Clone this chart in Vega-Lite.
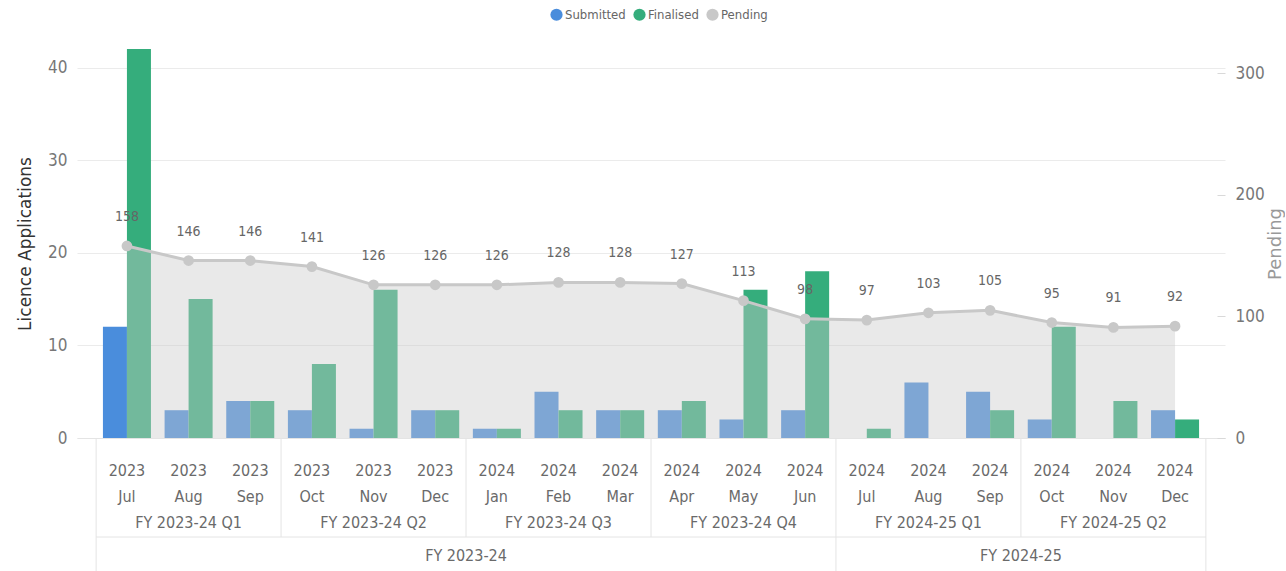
{
  "$schema": "https://vega.github.io/schema/vega-lite/v6.json",
  "padding": {"left": 16, "top": 8, "right": 0, "bottom": 0},
  "background": "white",
  "config": {
    "font": "DejaVu Sans Condensed, sans-serif",
    "view": {"stroke": null}
  },
  "datasets": {
    "months": [
      {"month": "2023-07", "year": "2023", "mon": "Jul", "Submitted": 12, "Finalised": 42, "Pending": 158},
      {"month": "2023-08", "year": "2023", "mon": "Aug", "Submitted": 3, "Finalised": 15, "Pending": 146},
      {"month": "2023-09", "year": "2023", "mon": "Sep", "Submitted": 4, "Finalised": 4, "Pending": 146},
      {"month": "2023-10", "year": "2023", "mon": "Oct", "Submitted": 3, "Finalised": 8, "Pending": 141},
      {"month": "2023-11", "year": "2023", "mon": "Nov", "Submitted": 1, "Finalised": 16, "Pending": 126},
      {"month": "2023-12", "year": "2023", "mon": "Dec", "Submitted": 3, "Finalised": 3, "Pending": 126},
      {"month": "2024-01", "year": "2024", "mon": "Jan", "Submitted": 1, "Finalised": 1, "Pending": 126},
      {"month": "2024-02", "year": "2024", "mon": "Feb", "Submitted": 5, "Finalised": 3, "Pending": 128},
      {"month": "2024-03", "year": "2024", "mon": "Mar", "Submitted": 3, "Finalised": 3, "Pending": 128},
      {"month": "2024-04", "year": "2024", "mon": "Apr", "Submitted": 3, "Finalised": 4, "Pending": 127},
      {"month": "2024-05", "year": "2024", "mon": "May", "Submitted": 2, "Finalised": 16, "Pending": 113},
      {"month": "2024-06", "year": "2024", "mon": "Jun", "Submitted": 3, "Finalised": 18, "Pending": 98},
      {"month": "2024-07", "year": "2024", "mon": "Jul", "Submitted": 0, "Finalised": 1, "Pending": 97},
      {"month": "2024-08", "year": "2024", "mon": "Aug", "Submitted": 6, "Finalised": 0, "Pending": 103},
      {"month": "2024-09", "year": "2024", "mon": "Sep", "Submitted": 5, "Finalised": 3, "Pending": 105},
      {"month": "2024-10", "year": "2024", "mon": "Oct", "Submitted": 2, "Finalised": 12, "Pending": 95},
      {"month": "2024-11", "year": "2024", "mon": "Nov", "Submitted": 0, "Finalised": 4, "Pending": 91},
      {"month": "2024-12", "year": "2024", "mon": "Dec", "Submitted": 3, "Finalised": 2, "Pending": 92}
    ],
    "quarters": [
      {"month": "2023-08", "label": "FY 2023-24 Q1"},
      {"month": "2023-11", "label": "FY 2023-24 Q2"},
      {"month": "2024-02", "label": "FY 2023-24 Q3"},
      {"month": "2024-05", "label": "FY 2023-24 Q4"},
      {"month": "2024-08", "label": "FY 2024-25 Q1"},
      {"month": "2024-11", "label": "FY 2024-25 Q2"}
    ],
    "qstarts": [
      {"month": "2023-07"}, {"month": "2023-10"}, {"month": "2024-01"},
      {"month": "2024-04"}, {"month": "2024-07"}, {"month": "2024-10"}
    ],
    "fys": [
      {"month": "2023-12", "label": "FY 2023-24"},
      {"month": "2024-09", "label": "FY 2024-25"}
    ],
    "fystarts": [{"month": "2023-07"}, {"month": "2024-07"}],
    "end": [{"month": "2024-12"}],
    "span": [{"from": "2023-07", "to": "2024-12"}]
  },
  "vconcat": [
    {
      "width": 1148,
      "height": 389,
      "encoding": {
        "x": {
          "field": "month", "type": "nominal", "title": null,
          "scale": {"type": "band", "paddingInner": 0, "paddingOuter": 0.31},
          "axis": {"labels": false, "ticks": false, "domain": true, "domainColor": "#e4e4e4", "grid": false, "title": null}
        }
      },
      "layer": [
        {
          "data": {"name": "months"},
          "transform": [{"fold": ["Submitted", "Finalised"], "as": ["series", "count"]}],
          "mark": {"type": "bar"},
          "encoding": {
            "xOffset": {"field": "series", "type": "nominal", "scale": {"domain": ["Submitted", "Finalised"], "paddingInner": 0, "paddingOuter": 0.284}},
            "y": {
              "field": "count", "type": "quantitative",
              "scale": {"domain": [0, 42], "nice": false},
              "axis": {
                "title": "Licence Applications", "values": [0, 10, 20, 30, 40],
                "grid": true, "gridColor": "#ebebeb", "domain": false, "ticks": false,
                "labelPadding": 10, "labelColor": "#777777", "labelFontSize": 17,
                "titleFont": "DejaVu Sans", "titleFontSize": 17, "titleFontWeight": "normal",
                "titleColor": "#333333", "titlePadding": 13
              }
            },
            "color": {
              "field": "series", "type": "nominal",
              "scale": {"domain": ["Submitted", "Finalised", "Pending"], "range": ["#4a8ddc", "#35ad7c", "#c8c8c8"]},
              "legend": {
                "orient": "none", "legendX": 473, "legendY": -41, "direction": "horizontal",
                "title": null, "symbolType": "circle", "symbolSize": 150, "symbolOpacity": 1,
                "symbolStrokeWidth": 0, "labelFontSize": 13, "labelColor": "#666666",
                "labelOffset": 2, "columnPadding": 7, "padding": 0
              }
            }
          }
        },
        {
          "data": {"name": "months"},
          "encoding": {
            "y": {
              "field": "Pending", "type": "quantitative",
              "scale": {"domain": [0, 320], "nice": false},
              "axis": {
                "orient": "right", "title": "Pending", "values": [0, 100, 200, 300],
                "grid": false, "domain": false, "ticks": true, "tickSize": -8, "tickColor": "#d9d9d9",
                "labelPadding": 18, "labelColor": "#777777", "labelFontSize": 17,
                "titleFont": "DejaVu Sans", "titleFontSize": 18, "titleFontWeight": "normal",
                "titleColor": "#999999", "titleAngle": 270, "titlePadding": 20
              }
            }
          },
          "layer": [
            {"mark": {"type": "area", "color": "#cacaca", "opacity": 0.41}},
            {"mark": {"type": "line", "color": "#c8c8c8", "strokeWidth": 3}},
            {
              "mark": {"type": "circle", "size": 115, "opacity": 1},
              "encoding": {"color": {"datum": "Pending", "type": "nominal"}}
            },
            {
              "mark": {"type": "text", "dy": -29, "fontSize": 14, "color": "#666666", "baseline": "middle"},
              "encoding": {"text": {"field": "Pending", "type": "quantitative"}}
            }
          ]
        }
      ],
      "resolve": {"scale": {"y": "independent"}}
    },
    {
      "width": 1148,
      "height": 99,
      "layer": [
        {
          "data": {"name": "qstarts"},
          "mark": {"type": "rule", "color": "#e4e4e4", "strokeWidth": 1},
          "encoding": {
            "x": {"field": "month", "type": "nominal", "bandPosition": 0, "scale": {"type": "band", "paddingInner": 0, "paddingOuter": 0.31}, "axis": null}
          }
        },
        {
          "data": {"name": "end"},
          "mark": {"type": "rule", "color": "#e4e4e4", "strokeWidth": 1},
          "encoding": {
            "x": {"field": "month", "type": "nominal", "bandPosition": 1, "scale": {"type": "band", "paddingInner": 0, "paddingOuter": 0.31}, "axis": null}
          }
        },
        {
          "data": {"name": "months"},
          "mark": {"type": "text", "fontSize": 16, "color": "#6a6a6a", "baseline": "middle"},
          "encoding": {
            "x": {"field": "month", "type": "nominal", "scale": {"type": "band", "paddingInner": 0, "paddingOuter": 0.31}, "axis": null},
            "y": {"datum": "year", "type": "ordinal", "scale": {"type": "point", "domain": ["year", "month", "quarter"], "padding": 0.9, "align": 0.7}, "axis": null},
            "text": {"field": "year"}
          }
        },
        {
          "data": {"name": "months"},
          "mark": {"type": "text", "fontSize": 16, "color": "#6a6a6a", "baseline": "middle"},
          "encoding": {
            "x": {"field": "month", "type": "nominal", "scale": {"type": "band", "paddingInner": 0, "paddingOuter": 0.31}, "axis": null},
            "y": {"datum": "month", "type": "ordinal"},
            "text": {"field": "mon"}
          }
        },
        {
          "data": {"name": "quarters"},
          "mark": {"type": "text", "fontSize": 16, "color": "#6a6a6a", "baseline": "middle"},
          "encoding": {
            "x": {"field": "month", "type": "nominal", "scale": {"type": "band", "paddingInner": 0, "paddingOuter": 0.31}, "axis": null},
            "y": {"datum": "quarter", "type": "ordinal"},
            "text": {"field": "label"}
          }
        }
      ]
    },
    {
      "width": 1148,
      "height": 34,
      "layer": [
        {
          "data": {"name": "fystarts"},
          "mark": {"type": "rule", "color": "#e4e4e4", "strokeWidth": 1},
          "encoding": {
            "x": {"field": "month", "type": "nominal", "bandPosition": 0, "scale": {"type": "band", "paddingInner": 0, "paddingOuter": 0.31}, "axis": null}
          }
        },
        {
          "data": {"name": "end"},
          "mark": {"type": "rule", "color": "#e4e4e4", "strokeWidth": 1},
          "encoding": {
            "x": {"field": "month", "type": "nominal", "bandPosition": 1, "scale": {"type": "band", "paddingInner": 0, "paddingOuter": 0.31}, "axis": null}
          }
        },
        {
          "data": {"name": "span"},
          "mark": {"type": "rule", "color": "#e4e4e4", "strokeWidth": 1},
          "encoding": {
            "x": {"field": "from", "type": "nominal", "bandPosition": 0, "scale": {"type": "band", "paddingInner": 0, "paddingOuter": 0.31}, "axis": null},
            "x2": {"field": "to", "bandPosition": 1},
            "y": {"datum": "edge", "type": "ordinal", "scale": {"type": "point", "domain": ["edge", "fy", "bottom"], "padding": 0, "align": 0}, "axis": null}
          }
        },
        {
          "data": {"name": "fys"},
          "mark": {"type": "text", "fontSize": 16, "color": "#6a6a6a", "baseline": "middle", "dy": 2},
          "encoding": {
            "x": {"field": "month", "type": "nominal", "bandPosition": 1, "scale": {"type": "band", "paddingInner": 0, "paddingOuter": 0.31}, "axis": null},
            "y": {"datum": "fy", "type": "ordinal"},
            "text": {"field": "label"}
          }
        }
      ]
    }
  ],
  "spacing": 0,
  "bounds": "flush",
  "resolve": {"scale": {"x": "shared"}}
}
